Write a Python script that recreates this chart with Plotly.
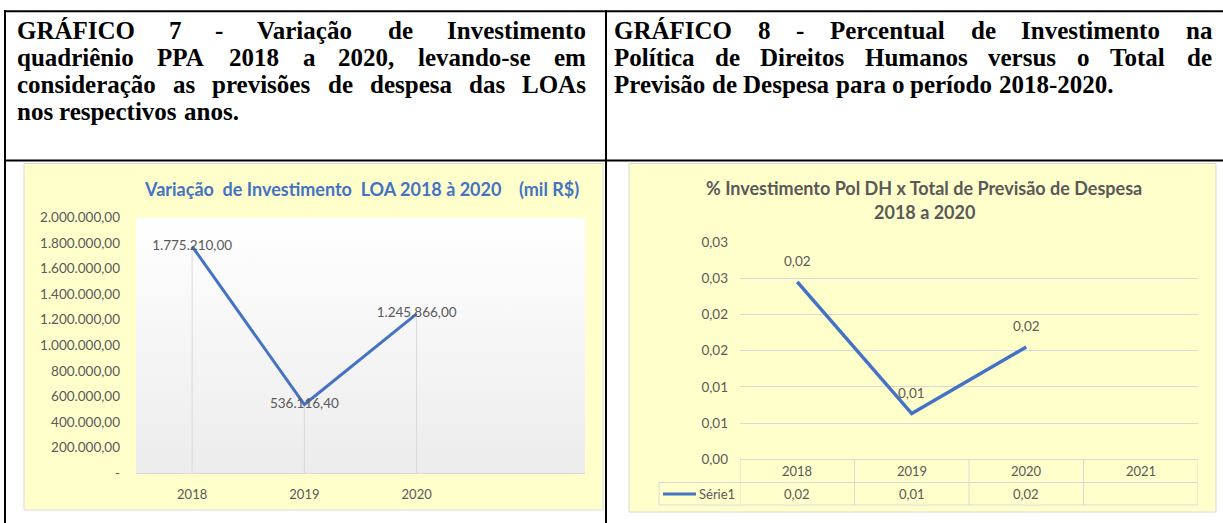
import plotly.graph_objects as go
from decimal import Decimal, ROUND_HALF_UP

W, H = 1223, 523

# ---------------- data ----------------
years_loa = ["2018", "2019", "2020"]
invest_loa = [1775210.00, 536116.40, 1245866.00]
invest_ticks = [0, 200000, 400000, 600000, 800000, 1000000,
                1200000, 1400000, 1600000, 1800000, 2000000]

years_pct = ["2018", "2019", "2020", "2021"]
pct_dh = [0.0245, 0.0063, 0.0155]
pct_ticks = [0.0, 0.005, 0.01, 0.015, 0.02, 0.025, 0.03]
series_label = "Série1"

title_loa = "Variação  de Investimento  LOA 2018 à 2020    (mil R$)"
title_pct = ["% Investimento Pol DH x Total de Previsão de Despesa", "2018 a 2020"]

header_left = ["GRÁFICO 7 - Variação de Investimento",
               "quadriênio PPA 2018 a 2020, levando-se em",
               "consideração as previsões de despesa das LOAs",
               "nos respectivos anos."]
header_right = ["GRÁFICO 8 - Percentual de Investimento na",
                "Política de Direitos Humanos versus o Total de",
                "Previsão de Despesa para o período 2018-2020."]

# ---------------- helpers ----------------
BLUE = "#4472C4"
GRAY_TXT = "#595959"
GRID = "#D9D9D9"
YELLOW = "#FFFFCC"

# vertical calibration of the photographed page (picture y = VA * figure y + VB)
VA, VB = 0.968, 8.7


def br(v, d=2):
    q = Decimal(str(v)).quantize(Decimal(1).scaleb(-d), rounding=ROUND_HALF_UP)
    s = f"{q:,.{d}f}"
    return s.replace(",", "X").replace(".", ",").replace("X", ".")


def px(x):
    return x / W


def py(y):
    # y given in picture pixels (from top) -> paper fraction
    return 1 - ((y - VB) / VA) / H


def nb(s):
    return s.replace(" ", "\u00a0")


# Times New Roman Bold advance widths (1/1000 em)
TB = {' ': 250, 'a': 500, 'b': 556, 'c': 444, 'd': 556, 'e': 444, 'f': 333, 'g': 500,
      'h': 556, 'i': 278, 'j': 333, 'k': 556, 'l': 278, 'm': 833, 'n': 556, 'o': 500,
      'p': 556, 'q': 556, 'r': 444, 's': 389, 't': 333, 'u': 556, 'v': 500, 'w': 722,
      'x': 500, 'y': 500, 'z': 444, 'A': 722, 'B': 667, 'C': 722, 'D': 722, 'E': 667,
      'F': 611, 'G': 778, 'H': 778, 'I': 389, 'J': 500, 'K': 778, 'L': 667, 'M': 944,
      'N': 722, 'O': 778, 'P': 611, 'Q': 778, 'R': 722, 'S': 556, 'T': 667, 'U': 722,
      'V': 722, 'W': 1000, 'X': 722, 'Y': 722, 'Z': 667, ',': 250, '.': 250, '-': 333,
      'á': 500, 'ã': 500, 'â': 500, 'é': 444, 'ê': 444, 'í': 278, 'ó': 500, 'õ': 500,
      'ç': 444, 'Á': 722}
for dgt in "0123456789":
    TB[dgt] = 500

FS = 25.0


def tw(s):
    return sum(TB.get(c, 500) for c in s) * FS / 1000.0


annotations = []
shapes = []


def header_block(lines, x0, x1, baselines):
    for li, line in enumerate(lines):
        words = line.split(" ")
        widths = [tw(w) for w in words]
        last = li == len(lines) - 1
        if last or len(words) == 1:
            gap = tw(" ")
        else:
            gap = (x1 - x0 - sum(widths)) / (len(words) - 1)
        x = x0
        yc = baselines[li] - 0.3375 * FS * VA
        for w, wd in zip(words, widths):
            annotations.append(dict(
                text="<b>" + w + "</b>", x=px(x), y=py(yc), xref="paper", yref="paper",
                xanchor="left", yanchor="middle", showarrow=False,
                borderpad=0, borderwidth=0,
                font=dict(family="Liberation Serif", size=FS, color="black")))
            x += wd + gap


header_block(header_left, 17, 586, [39, 66, 93, 120])
header_block(header_right, 614, 1212, [39, 66, 93])

# ---------------- table frame (black) ----------------
for (xa, ya, xb, yb) in [(4, 12, W, 12), (4, 161, W, 161), (5, 11, 5, 540), (606, 11, 606, 540)]:
    shapes.append(dict(type="line", xref="paper", yref="paper",
                       x0=px(xa), y0=py(ya), x1=px(xb), y1=py(yb),
                       line=dict(color="black", width=2), layer="above"))

# yellow chart boxes
for (xa, ya, xb, yb) in [(24, 164, 603, 510), (629, 164, 1216, 512)]:
    shapes.append(dict(type="rect", xref="paper", yref="paper",
                       x0=px(xa), y0=py(yb), x1=px(xb), y1=py(ya),
                       fillcolor=YELLOW, line=dict(color=GRID, width=1), layer="below"))

fig = go.Figure()

# ---------------- chart 1 ----------------
xi1 = list(range(len(years_loa)))
xr1 = [-0.5, 3.5]
yr1 = [invest_ticks[0], invest_ticks[-1]]

fig.add_trace(go.Scatter(
    x=[xr1[0], xr1[1], xr1[1], xr1[0], xr1[0]],
    y=[yr1[0], yr1[0], yr1[1], yr1[1], yr1[0]],
    fill="toself", mode="lines", line=dict(width=0),
    fillgradient=dict(type="vertical", colorscale=[[0, "#ECECEC"], [1, "#FFFFFF"]]),
    hoverinfo="skip", showlegend=False, xaxis="x", yaxis="y"))

drop_x, drop_y = [], []
for i, v in zip(xi1, invest_loa):
    drop_x += [i, i, None]
    drop_y += [0, v, None]
fig.add_trace(go.Scatter(x=drop_x, y=drop_y, mode="lines",
                         line=dict(color=GRID, width=1), hoverinfo="skip",
                         showlegend=False, xaxis="x", yaxis="y"))

fig.add_trace(go.Scatter(
    x=xi1, y=invest_loa, mode="lines+text",
    text=[br(v) for v in invest_loa], textposition="middle center",
    textfont=dict(family="Lato", size=13.5, color=GRAY_TXT),
    line=dict(color=BLUE, width=3), showlegend=False, xaxis="x", yaxis="y"))

annotations.append(dict(text="<b>" + nb(title_loa) + "</b>", x=px(361), y=py(189),
                        xref="paper", yref="paper", xanchor="center", yanchor="middle",
                        showarrow=False, font=dict(family="Lato", size=18, color=BLUE)))

# ---------------- chart 2 ----------------
xi2 = list(range(len(pct_dh)))
fig.add_trace(go.Scatter(
    x=xi2, y=pct_dh, mode="lines", line=dict(color=BLUE, width=3.5),
    showlegend=False, xaxis="x2", yaxis="y2"))

for i, v in zip(xi2, pct_dh):
    annotations.append(dict(text=br(v), x=i, y=v, xref="x2", yref="y2", yshift=20 / VA,
                            showarrow=False,
                            font=dict(family="Lato", size=13.5, color=GRAY_TXT)))

for k, line in enumerate(title_pct):
    annotations.append(dict(text="<b>" + line + "</b>", x=px(924), y=py(188 + 24 * k),
                            xref="paper", yref="paper", xanchor="center", yanchor="middle",
                            showarrow=False, font=dict(family="Lato", size=18, color=GRAY_TXT)))

# data table under chart 2
T_TOP, T_MID, T_BOT = 459.3, 482.5, 505
LEG_L = 659
for j in range(len(years_pct) + 1):
    shapes.append(dict(type="line", xref="x2", yref="paper", x0=j - 0.5, x1=j - 0.5,
                       y0=py(T_TOP), y1=py(T_BOT), line=dict(color=GRID, width=1)))
shapes.append(dict(type="line", xref="paper", yref="paper", x0=px(LEG_L), x1=px(LEG_L),
                   y0=py(T_MID), y1=py(T_BOT), line=dict(color=GRID, width=1)))
for yv in (T_MID, T_BOT):
    shapes.append(dict(type="line", xref="paper", yref="paper", x0=px(LEG_L), x1=px(1198),
                       y0=py(yv), y1=py(yv), line=dict(color=GRID, width=1)))
shapes.append(dict(type="line", xref="paper", yref="paper", x0=px(663), x1=px(696),
                   y0=py(494), y1=py(494), line=dict(color=BLUE, width=3)))
annotations.append(dict(text=series_label, x=px(697), y=py(494), xref="paper", yref="paper",
                        xanchor="left", yanchor="middle", showarrow=False,
                        font=dict(family="Lato", size=13, color=GRAY_TXT)))
for j, yl in enumerate(years_pct):
    annotations.append(dict(text=yl, x=j, y=py(471.5), xref="x2", yref="paper",
                            yanchor="middle", showarrow=False,
                            font=dict(family="Lato", size=13, color=GRAY_TXT)))
for j, v in enumerate(pct_dh):
    annotations.append(dict(text=br(v), x=j, y=py(494), xref="x2", yref="paper",
                            yanchor="middle", showarrow=False,
                            font=dict(family="Lato", size=13, color=GRAY_TXT)))

# ---------------- layout ----------------
fig.update_layout(
    width=W, height=H, margin=dict(l=0, r=0, t=0, b=0),
    paper_bgcolor="white", plot_bgcolor="rgba(0,0,0,0)",
    font=dict(family="Lato", color=GRAY_TXT),
    showlegend=False, hovermode=False,
    xaxis=dict(domain=[px(136), px(585)], range=xr1, anchor="y",
               tickvals=xi1, ticktext=years_loa, showgrid=False, zeroline=False,
               showline=True, linecolor=GRID, linewidth=1, ticks="",
               ticklabelstandoff=9, tickfont=dict(family="Lato", size=13, color=GRAY_TXT),
               fixedrange=True),
    yaxis=dict(domain=[py(473), py(218)], range=yr1, anchor="x",
               tickvals=invest_ticks,
               ticktext=[br(v) if v else "-" for v in invest_ticks],
               showgrid=False, zeroline=False, showline=False, ticks="",
               ticklabelstandoff=15, tickfont=dict(family="Lato", size=13.5, color=GRAY_TXT),
               fixedrange=True),
    xaxis2=dict(domain=[px(740), px(1198)], range=[-0.5, 3.5], anchor="y2",
                showticklabels=False, showgrid=False, zeroline=False,
                showline=False, ticks="", fixedrange=True),
    yaxis2=dict(domain=[py(T_TOP), py(242.3)], range=[pct_ticks[0], pct_ticks[-1]],
                anchor="x2", tickvals=pct_ticks, ticktext=[br(v) for v in pct_ticks],
                showgrid=True, gridcolor=GRID, gridwidth=1,
                zeroline=True, zerolinecolor=GRID, zerolinewidth=1,
                showline=False, ticks="", ticklabelstandoff=11,
                tickfont=dict(family="Lato", size=13.5, color=GRAY_TXT), fixedrange=True),
    shapes=shapes, annotations=annotations,
)

page_js = (
    "var s=document.documentElement.style;s.margin='0';s.padding='0';s.overflow='hidden';"
    "var b=document.body.style;b.margin='0';b.padding='0';b.overflow='hidden';"
    "var d=document.getElementById('{plot_id}');"
    "d.style.position='fixed';d.style.top='0px';d.style.left='0px';"
)

fig.write_html("out.html", config={"displayModeBar": False}, post_script=page_js)
